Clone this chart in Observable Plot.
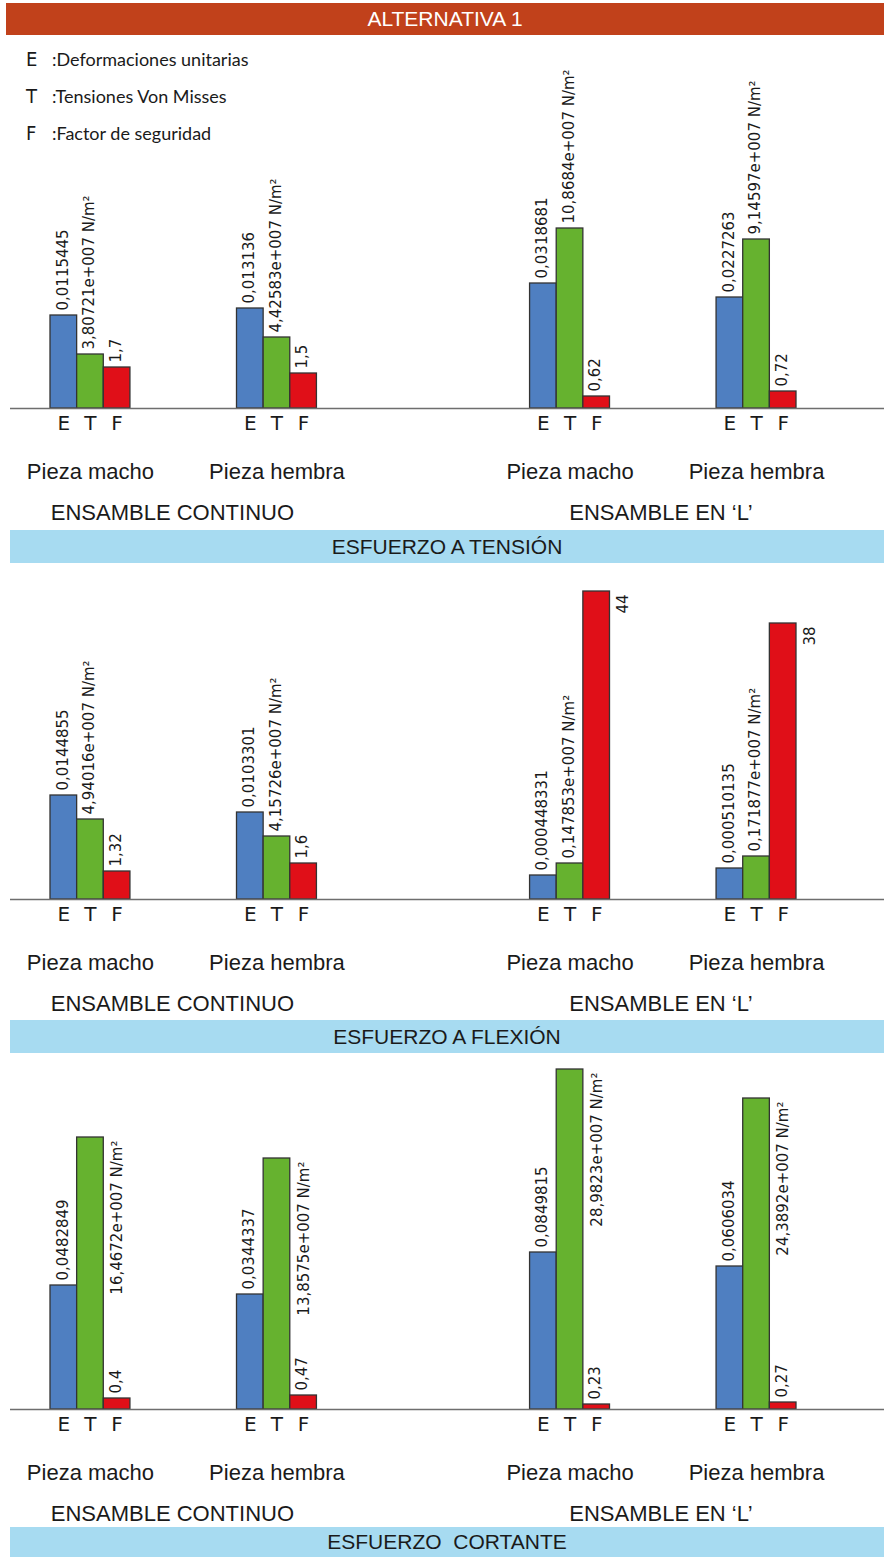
<!DOCTYPE html>
<html>
<head>
<meta charset="utf-8">
<script src="https://cdn.jsdelivr.net/npm/d3@7"></script>
<script src="https://cdn.jsdelivr.net/npm/@observablehq/plot@0.6"></script>
<style>
  html, body { margin: 0; padding: 0; background: #fff; }
  #page { position: relative; width: 884px; height: 1557px; overflow: hidden; background: #fff; }
  .banner { position: absolute; left: 6px; width: 878px; top: 3px; height: 32px; background: #c1411b;
            color: #fff; font: 21px "Liberation Sans", Arial, sans-serif; text-align: center; line-height: 32px; }
  .band { position: absolute; left: 10px; width: 874px; background: #a7dbf1; color: #1a1a1a;
          font: 21px "Liberation Sans", Arial, sans-serif; text-align: center; white-space: pre; }
  .panel { position: absolute; left: 0; }
  .legend { position: absolute; left: 26px; z-index: 2; color: #1a1a1a; }
  .legend .k { position: absolute; left: 0; font: 20px "Liberation Sans Narrow", "DejaVu Sans Condensed", sans-serif; }
  .legend .v { position: absolute; left: 26px; font: 18px Lato, "Noto Sans", sans-serif; white-space: nowrap; }
</style>
</head>
<body>
<div id="page"></div>
<script>
// ---------- data ----------
const title = "ALTERNATIVA 1";
const measures = ["E", "T", "F"];
const legendLabels = [":Deformaciones unitarias", ":Tensiones Von Misses", ":Factor de seguridad"];
const pieces = ["Pieza macho", "Pieza hembra", "Pieza macho", "Pieza hembra"];
const assemblies = ["ENSAMBLE CONTINUO", "ENSAMBLE EN ‘L’"];
const loadCases = ["ESFUERZO A TENSIÓN", "ESFUERZO A FLEXIÓN", "ESFUERZO  CORTANTE"];
const measureColors = ["#4f7fc1", "#66b22f", "#e00f18"];

// drawn bar heights (relative units), per group [E, T, F]
const tensionHeights  = [[93, 54, 41], [100, 71, 35], [125, 180, 12], [111, 169, 17]];
const flexionHeights  = [[104, 80, 28], [87, 63, 36], [24, 36, 308], [31, 43, 276]];
const cortanteHeights = [[124, 272, 11], [115, 251, 14], [157, 340, 5], [143, 311, 7]];

// value labels printed on the bars
const tensionLabels = [
  ["0,0115445", "3,80721e+007 N/m²", "1,7"],
  ["0,013136", "4,42583e+007 N/m²", "1,5"],
  ["0,0318681", "10,8684e+007 N/m²", "0,62"],
  ["0,0227263", "9,14597e+007 N/m²", "0,72"]
];
const flexionLabels = [
  ["0,0144855", "4,94016e+007 N/m²", "1,32"],
  ["0,0103301", "4,15726e+007 N/m²", "1,6"],
  ["0,000448331", "0,147853e+007 N/m²", "44"],
  ["0,000510135", "0,171877e+007 N/m²", "38"]
];
const cortanteLabels = [
  ["0,0482849", "16,4672e+007 N/m²", "0,4"],
  ["0,0344337", "13,8575e+007 N/m²", "0,47"],
  ["0,0849815", "28,9823e+007 N/m²", "0,23"],
  ["0,0606034", "24,3892e+007 N/m²", "0,27"]
];

// ---------- layout ----------
const page = document.getElementById("page");
const groupSlot = [0, 7, 18, 25];   // first band slot of each bar group
const slots = d3.range(28);

const banner = document.createElement("div");
banner.className = "banner";
banner.textContent = title;
page.appendChild(banner);

function panel(heights, labels, top, svgHeight, baseline) {
  const rows = [];
  heights.forEach((grp, g) => {
    const maxH = d3.max(grp);
    grp.forEach((h, k) => rows.push({
      slot: groupSlot[g] + k, m: measures[k], h, label: labels[g][k],
      side: h === maxH && h > 200
    }));
  });
  const font = "DejaVu Sans, sans-serif";
  const plot = Plot.plot({
    width: 884, height: svgHeight,
    marginTop: 0, marginLeft: 10, marginRight: 0, marginBottom: svgHeight - baseline,
    style: {background: "transparent", overflow: "visible", color: "#1a1a1a", fontFamily: font},
    x: {type: "band", domain: slots, range: [50, 796], padding: 0, round: false, axis: null},
    y: {domain: [0, baseline], axis: null},
    color: {domain: measures, range: measureColors},
    marks: [
      Plot.barY(rows, {x: "slot", y: "h", fill: "m", stroke: "#333", strokeWidth: 1.3}),
      Plot.ruleY([0], {stroke: "#6e6e6e", strokeWidth: 1.6}),
      Plot.text(rows.filter(d => !d.side), {x: "slot", y: "h", text: "label", rotate: -90,
        textAnchor: "start", lineAnchor: "middle", dy: -5, dx: -1, fontSize: 15}),
      Plot.text(rows.filter(d => d.side), {x: "slot", y: "h", text: "label", rotate: -90,
        textAnchor: "end", lineAnchor: "middle", dx: 27, dy: 3, fontSize: 15}),
      Plot.text(rows, {x: "slot", y: 0, text: "m", dy: 15, fontSize: 20}),
      Plot.text(pieces, {x: (d, i) => groupSlot[i] + 1, y: 0, text: d => d, dy: 63,
        fontSize: 22, fontFamily: "Liberation Sans, Arial, sans-serif"}),
      Plot.text([assemblies[0]], {x: [4], y: 0, text: d => d, dy: 104, dx: 2,
        fontSize: 22, fontFamily: "Liberation Sans, Arial, sans-serif"}),
      Plot.text([assemblies[1]], {x: [22], y: 0, text: d => d, dy: 104, dx: 11,
        fontSize: 22, fontFamily: "Liberation Sans, Arial, sans-serif"})
    ]
  });
  plot.classList.add("panel");
  plot.style.position = "absolute";
  plot.style.top = top + "px";
  page.appendChild(plot);
}

function band(text, top, h) {
  const b = document.createElement("div");
  b.className = "band";
  b.style.top = top + "px";
  b.style.height = h + "px";
  b.style.lineHeight = h + "px";
  b.textContent = text;
  page.appendChild(b);
}

panel(tensionHeights, tensionLabels, 40, 490, 368);
band(loadCases[0], 530, 33);
panel(flexionHeights, flexionLabels, 563, 457, 336);
band(loadCases[1], 1020, 33);
panel(cortanteHeights, cortanteLabels, 1053, 474, 356);
band(loadCases[2], 1527, 30);

// legend
const legend = document.createElement("div");
legend.className = "legend";
legend.style.top = "0px";
measures.forEach((m, i) => {
  const k = document.createElement("div");
  k.className = "k"; k.textContent = m; k.style.top = (47 + i * 37) + "px";
  const v = document.createElement("div");
  v.className = "v"; v.textContent = legendLabels[i]; v.style.top = (48 + i * 37) + "px";
  legend.appendChild(k); legend.appendChild(v);
});
page.appendChild(legend);
</script>
</body>
</html>
